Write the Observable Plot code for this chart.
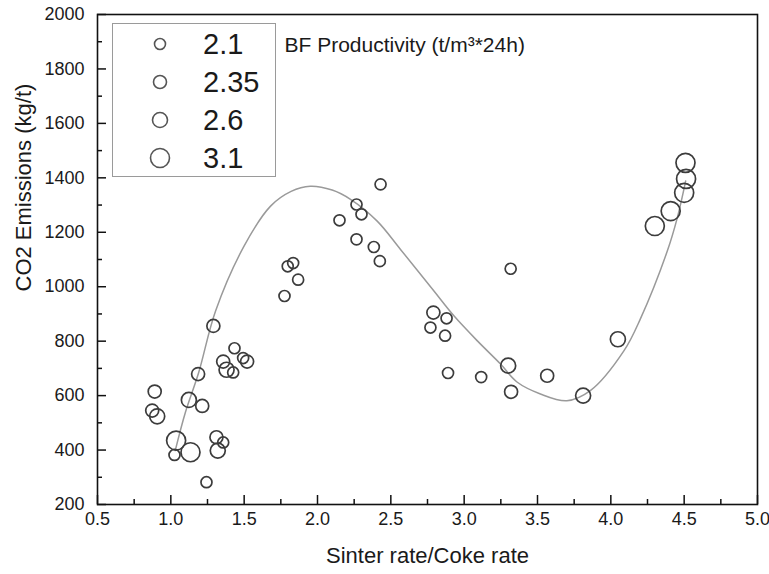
<!DOCTYPE html>
<html><head><meta charset="utf-8">
<script src="https://cdn.jsdelivr.net/npm/d3@7"></script>
<script src="https://cdn.jsdelivr.net/npm/@observablehq/plot@0.6"></script>
<style>
body{margin:0;background:#fff;font-family:"Liberation Sans",Arial,sans-serif;}
#wrap{position:relative;width:769px;height:574px;}
#legend{position:absolute;left:112px;top:23px;width:164px;height:154px;border:1px solid #9a9a9a;box-sizing:border-box;background:#fff}
</style></head><body><div id="wrap"></div>
<script>
// Scatter: Sinter rate/Coke rate vs CO2 emissions, sized by BF productivity
const ratio = [0.89,0.873,0.907,1.036,1.025,1.134,1.123,1.186,1.214,1.243,1.29,1.311,1.357,1.32,1.357,1.38,1.425,1.434,1.493,1.52,
  1.775,1.797,1.834,1.868,2.15,2.266,2.30,2.266,2.384,2.425,2.43,2.77,2.79,2.88,2.87,2.89,3.116,3.317,3.30,3.32,3.566,3.811,4.048,4.30,4.408,4.50,4.513,4.509];
const emissions = [615,545,524,435,382,392,584,679,562,282,856,447,428,398,725,695,685,774,738,725,
  966,1075,1087,1026,1244,1302,1266,1174,1146,1094,1376,850,905,884,820,683,668,1066,710,614,673,600,807,1223,1278,1345,1396,1455];
const productivity = [2.35,2.35,2.6,3.1,2.1,3.1,2.6,2.35,2.35,2.1,2.35,2.35,2.1,2.6,2.35,2.6,2.1,2.1,2.1,2.35,
  2.1,2.1,2.1,2.1,2.1,2.1,2.1,2.1,2.1,2.1,2.1,2.1,2.35,2.1,2.1,2.1,2.1,2.1,2.6,2.35,2.35,2.6,2.6,3.1,3.1,3.1,3.1,3.1];
// Fitted curve
const fitRatio = [1.03,1.10,1.19,1.305,1.5,1.68,1.82,1.95,2.1,2.225,2.407,2.566,2.794,2.93,3.09,3.248,3.36,3.52,3.70,3.86,4.09,4.2,4.385,4.453,4.51];
const fitEmissions = [398,540,685,911,1150,1296,1350,1369,1355,1321,1241,1137,984,893,801,716,650,606,581,618,765,880,1131,1253,1388];
// Legend
const legendValues = [2.1,2.35,2.6,3.1];
const legendLabels = ["2.1","2.35","2.6","3.1"];
// Ticks
const xTicks = [0.5,1.0,1.5,2.0,2.5,3.0,3.5,4.0,4.5,5.0];
const xMinorTicks = [0.75,1.25,1.75,2.25,2.75,3.25,3.75,4.25,4.75];
const yTicks = [200,400,600,800,1000,1200,1400,1600,1800,2000];
const yMinorTicks = [300,500,700,900,1100,1300,1500,1700,1900];

const points = ratio.map((x,i)=>({x, y: emissions[i], p: productivity[i]}));
const fit = fitRatio.map((x,i)=>({x, y: fitEmissions[i]}));
const font = "Liberation Sans, Arial, sans-serif";
const W = 769, H = 574, mL = 97, mR = 12, mT = 14, mB = 70;
const major = 9, minor = 5;

const plot = Plot.plot({
  width: W, height: H,
  marginLeft: mL, marginRight: mR, marginTop: mT, marginBottom: mB,
  style: {fontFamily: font, color: "#1a1a1a", background: "#fff"},
  x: {domain: [0.5, 5.0], axis: null},
  y: {domain: [200, 2000], axis: null},
  r: {type: "linear", domain: [2.1, 3.1], range: [5.5, 9.5]},
  marks: [
    Plot.line(fit, {x: "x", y: "y", curve: "catmull-rom", stroke: "#9a9a9a", strokeWidth: 1.5}),
    Plot.dot(points, {x: "x", y: "y", r: "p", stroke: "#3c3c3c", strokeWidth: 1.7, fill: "none"}),
    // inward ticks (axis ticks shifted back inside the frame)
    Plot.axisX(xTicks, {tickSize: major, dy: -major, tickFormat: () => "", label: null, stroke: "#111", strokeWidth: 1.5}),
    Plot.axisX(xMinorTicks, {tickSize: minor, dy: -minor, tickFormat: () => "", label: null, stroke: "#111", strokeWidth: 1.5}),
    Plot.axisY(yTicks, {tickSize: major, dx: major, tickFormat: () => "", label: null, stroke: "#111", strokeWidth: 1.5}),
    Plot.axisY(yMinorTicks, {tickSize: minor, dx: minor, tickFormat: () => "", label: null, stroke: "#111", strokeWidth: 1.5}),
    Plot.frame({stroke: "#111", strokeWidth: 1.6}),
    Plot.axisX(xTicks, {tickSize: 0, tickPadding: 8, tickFormat: d => d.toFixed(1), label: null, fontSize: 18}),
    Plot.axisY(yTicks, {tickSize: 0, tickPadding: 13, tickFormat: d => String(d), label: null, fontSize: 18}),
    Plot.text(["Sinter rate/Coke rate"], {frameAnchor: "bottom", dy: 51, fontSize: 22, lineAnchor: "middle"}),
    Plot.text(["CO2 Emissions (kg/t)"], {frameAnchor: "left", rotate: -90, dx: -74, dy: 32, fontSize: 22, lineAnchor: "middle"}),
    Plot.text(["BF Productivity (t/m³*24h)"], {frameAnchor: "top-left", dx: 187, dy: 31, fontSize: 21, textAnchor: "start", lineAnchor: "middle"})
  ]
});

const wrap = document.getElementById("wrap");
wrap.appendChild(plot);

// Legend using the plot's own r scale
const rScale = plot.scale("r");
const leg = document.createElement("div");
leg.id = "legend";
const ns = "http://www.w3.org/2000/svg";
const lsvg = document.createElementNS(ns, "svg");
lsvg.setAttribute("width", 162); lsvg.setAttribute("height", 152);
legendValues.forEach((v, i) => {
  const cy = 20 + i * 38;
  const c = document.createElementNS(ns, "circle");
  c.setAttribute("cx", 47); c.setAttribute("cy", cy);
  c.setAttribute("r", rScale.apply(v));
  c.setAttribute("fill", "none"); c.setAttribute("stroke", "#555"); c.setAttribute("stroke-width", 1.6);
  lsvg.appendChild(c);
  const t = document.createElementNS(ns, "text");
  t.setAttribute("x", 90); t.setAttribute("y", cy);
  t.setAttribute("dominant-baseline", "central");
  t.setAttribute("font-size", 29); t.setAttribute("font-family", font); t.setAttribute("fill", "#1a1a1a");
  t.textContent = legendLabels[i];
  lsvg.appendChild(t);
});
leg.appendChild(lsvg);
wrap.appendChild(leg);
</script>
</body></html>
